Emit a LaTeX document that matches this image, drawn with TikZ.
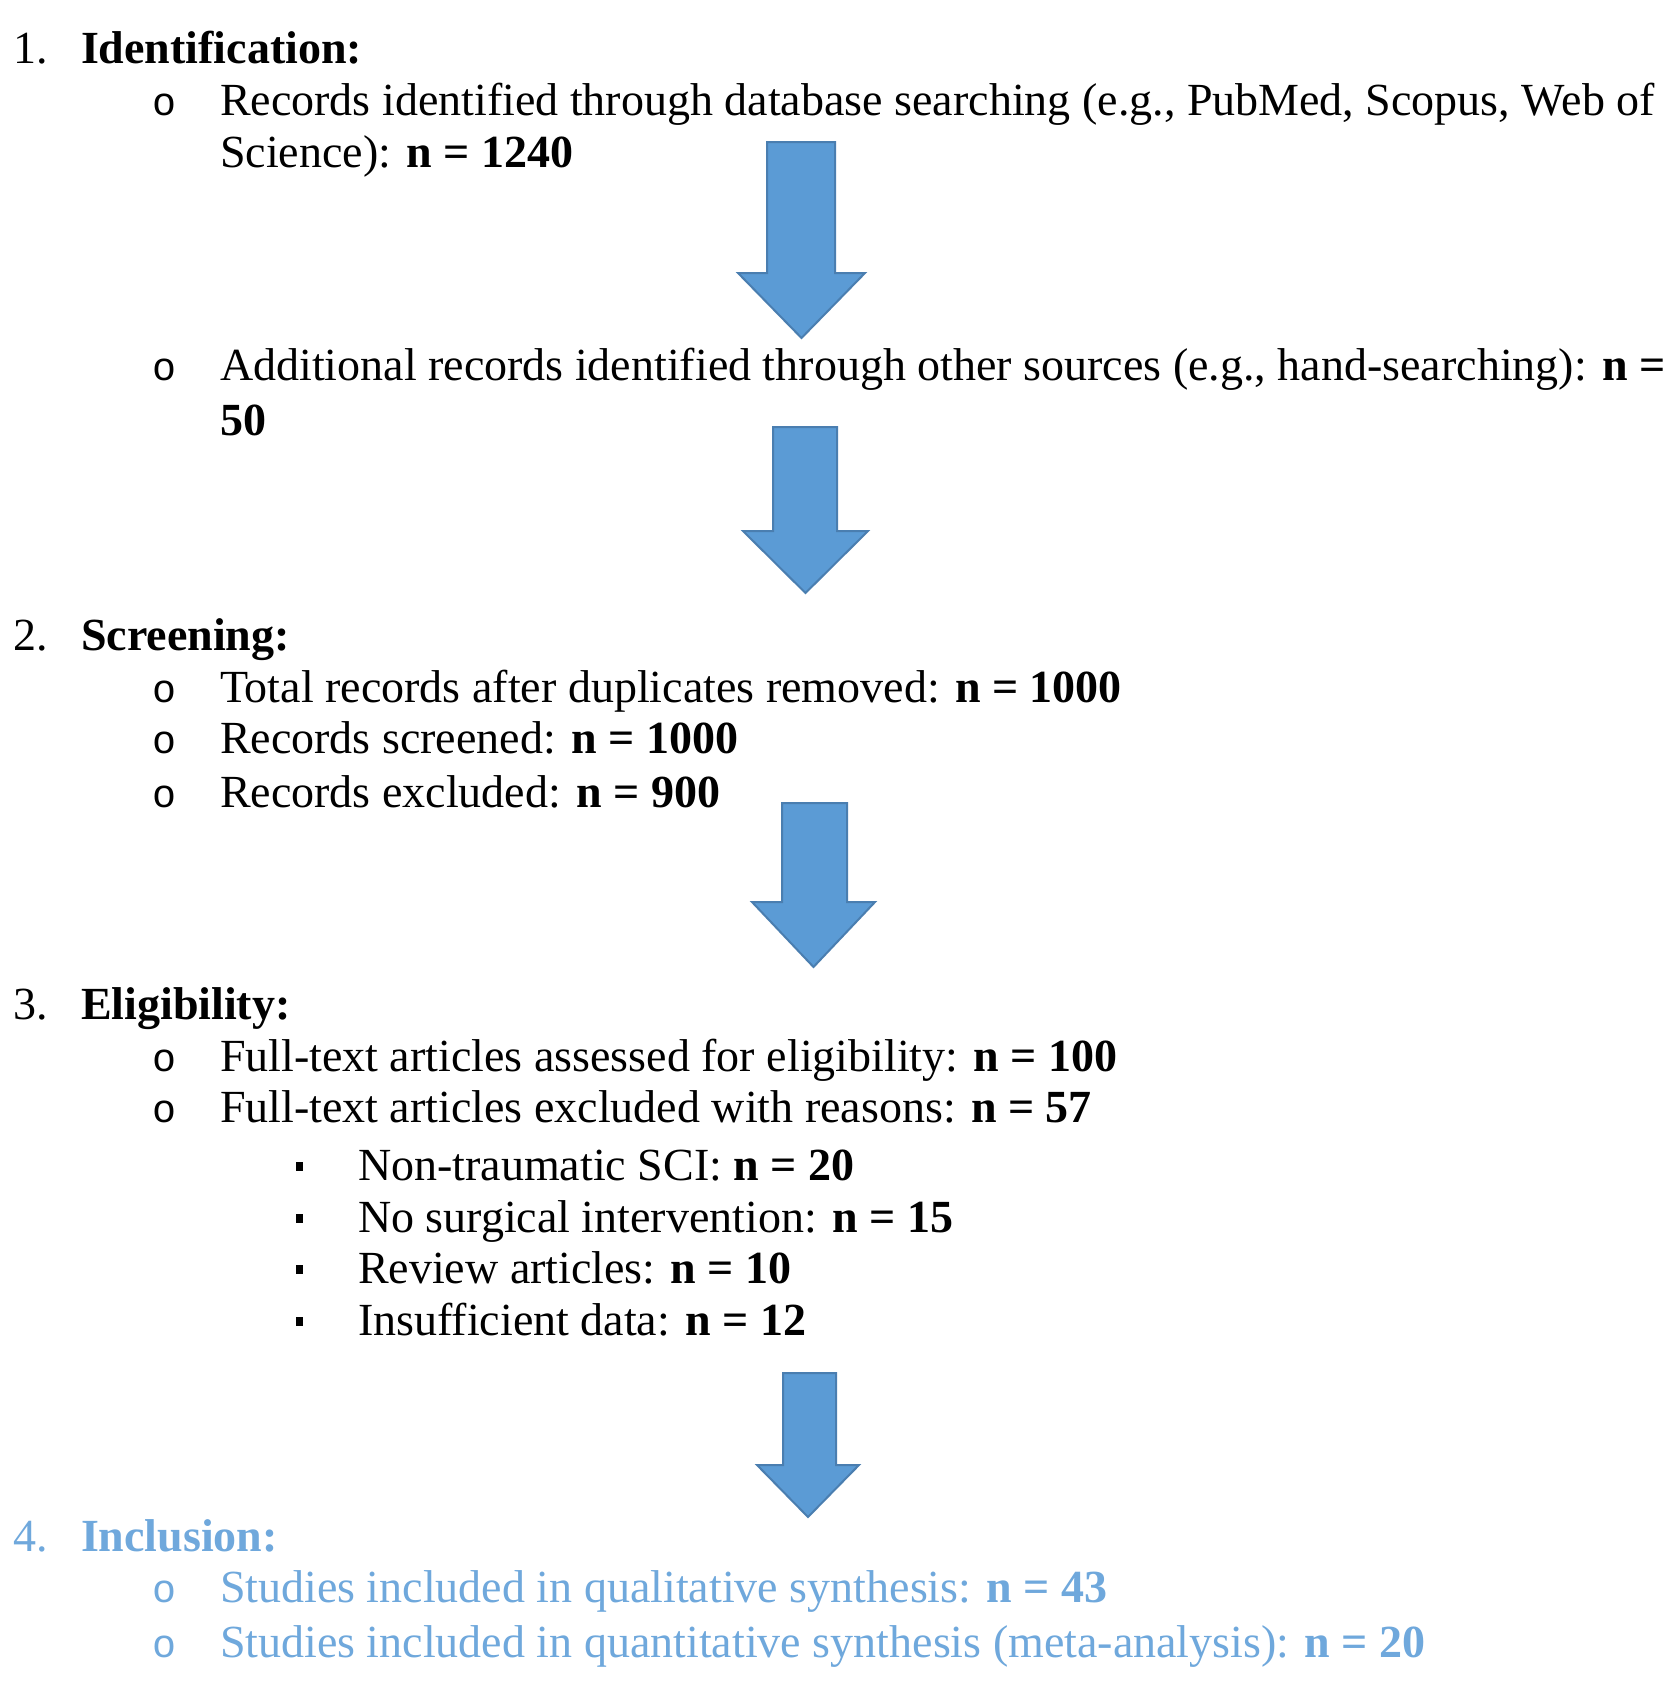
\documentclass[tikz,border=0pt]{standalone}
\usepackage{fontspec}
\setmainfont{Liberation Serif}
\newfontfamily\bulletfont{Liberation Mono}
\definecolor{arrowfill}{HTML}{5B9BD5}
\definecolor{arrowline}{HTML}{4A7EB0}
\definecolor{inclblue}{HTML}{6FA8DC}
\tikzset{
  txt/.style={anchor=base west, inner sep=0pt, outer sep=0pt, font=\fontsize{46}{52}\selectfont},
  obul/.style={anchor=base west, inner sep=0pt, outer sep=0pt, font=\bulletfont\fontsize{40}{52}\selectfont},
  sqbul/.style={fill=black, inner sep=0pt, minimum width=7pt, minimum height=9pt},
  blockarrow/.style={fill=arrowfill, draw=arrowline, line width=2pt, line join=miter},
}
\newcommand{\blockarr}[7]{% shaft left, shaft right, top, head y, head left, head right, tip y
  \draw[blockarrow] (#1,#3) -- (#2,#3) -- (#2,#4) -- (#6,#4) -- ({(#5+#6)/2},#7) -- (#5,#4) -- (#1,#4) -- cycle;}
\begin{document}
\begin{tikzpicture}[x=1pt,y=-1pt]
\useasboundingbox[fill=white] (0,0) rectangle (1678,1684);

% 1. Identification
\node[txt] (n1) at (13,63) {1.};
\node[txt] (h1) at (81,63) {\textbf{Identification:}};
\node[obul] (b11) at (152,115) {o};
\node[txt] (t11) at (220,115) {Records identified through database searching (e.g., PubMed, Scopus, Web of};
\node[txt] (t11b) at (220,167) {Science): \textbf{n = 1240}};
\blockarr{767}{835}{142}{273}{738}{865}{338}
\node[obul] (b12) at (152,380) {o};
\node[txt] (t12) at (220,380) {Additional records identified through other sources (e.g., hand-searching): \textbf{n =}};
\node[txt] (t12b) at (220,435) {\textbf{50}};
\blockarr{773}{837}{427}{531}{743}{868}{593}

% 2. Screening
\node[txt] (n2) at (13,650) {2.};
\node[txt] (h2) at (81,650) {\textbf{Screening:}};
\node[obul] (b21) at (152,702) {o};
\node[txt] (t21) at (220,702) {Total records after duplicates removed: \textbf{n = 1000}};
\node[obul] (b22) at (152,753) {o};
\node[txt] (t22) at (220,753) {Records screened: \textbf{n = 1000}};
\node[obul] (b23) at (152,807) {o};
\node[txt] (t23) at (220,807) {Records excluded: \textbf{n = 900}};
\blockarr{782}{847}{803}{902}{752}{875}{967}

% 3. Eligibility
\node[txt] (n3) at (13,1019) {3.};
\node[txt] (h3) at (81,1019) {\textbf{Eligibility:}};
\node[obul] (b31) at (152,1071) {o};
\node[txt] (t31) at (220,1071) {Full-text articles assessed for eligibility: \textbf{n = 100}};
\node[obul] (b32) at (152,1122) {o};
\node[txt] (t32) at (220,1122) {Full-text articles excluded with reasons: \textbf{n = 57}};
\node[sqbul] (s1) at (299,1166) {};
\node[txt] (u1) at (358,1180) {Non-traumatic SCI: \textbf{n = 20}};
\node[sqbul] (s2) at (299,1218) {};
\node[txt] (u2) at (358,1232) {No surgical intervention: \textbf{n = 15}};
\node[sqbul] (s3) at (299,1269) {};
\node[txt] (u3) at (358,1283) {Review articles: \textbf{n = 10}};
\node[sqbul] (s4) at (299,1321) {};
\node[txt] (u4) at (358,1335) {Insufficient data: \textbf{n = 12}};
\blockarr{783}{836}{1373}{1465}{757}{859}{1517}

% 4. Inclusion
\begin{scope}[every node/.append style={text=inclblue}]
\node[txt] (n4) at (13,1551) {4.};
\node[txt] (h4) at (81,1551) {\textbf{Inclusion:}};
\node[obul] (b41) at (152,1602) {o};
\node[txt] (t41) at (220,1602) {Studies included in qualitative synthesis: \textbf{n = 43}};
\node[obul] (b42) at (152,1657) {o};
\node[txt] (t42) at (220,1657) {Studies included in quantitative synthesis (meta-analysis): \textbf{n = 20}};
\end{scope}
\end{tikzpicture}
\end{document}
